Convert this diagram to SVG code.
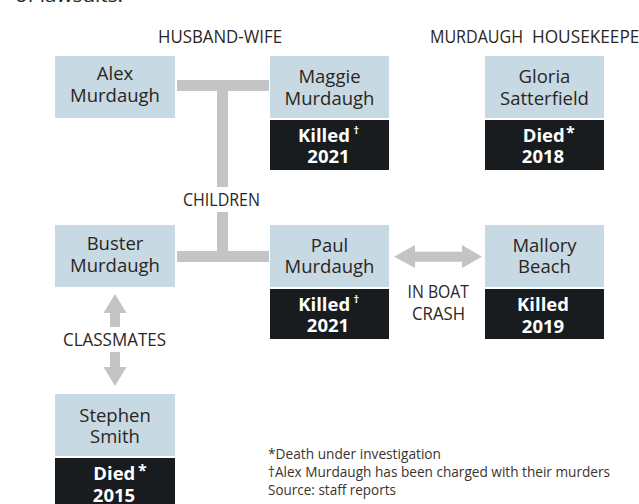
<svg xmlns="http://www.w3.org/2000/svg" width="639" height="504" viewBox="0 0 639 504">
<style>
.bg{fill:#ffffff}
.name{fill:#c7d9e3}
.fate{fill:#181c1f}
.conn{fill:#c4c4c4}
.nt{font-family:"Open Sans","Noto Sans",sans-serif;font-size:18.5px;fill:#2b2521;text-anchor:middle}
.ft{font-family:"Open Sans","Noto Sans",sans-serif;font-size:18.5px;font-weight:bold;fill:#ffffff}
.yr{text-anchor:middle}
.mk{font-size:11px}
.ast{font-size:16px}
.lbl{font-family:"Open Sans","Noto Sans",sans-serif;font-size:18px;fill:#2b2521}
.foot{font-family:"Open Sans","Noto Sans",sans-serif;font-size:15px;fill:#3a332e}
</style>
<rect class="bg" x="0" y="0" width="639" height="504"/>
<text class="lbl" x="15" y="1.5" font-size="20" textLength="108" lengthAdjust="spacingAndGlyphs">of lawsuits.</text>

<g id="connectors">
  <rect class="conn" x="177" y="80" width="92" height="11"/>
  <rect class="conn" x="217" y="91" width="11" height="96"/>
  <rect class="conn" x="217" y="212" width="11" height="40"/>
  <rect class="conn" x="177" y="251" width="92" height="11"/>
  <polygon class="conn" points="394,256.7 415,245 415,251.7 462,251.7 462,245 482,256.7 462,268 462,261.7 415,261.7 415,268"/>
  <polygon class="conn" points="115,294 126.5,313 120,313 120,327 110,327 110,313 103.5,313"/>
  <polygon class="conn" points="110,352 120,352 120,367 126.5,367 115,386 103.5,367 110,367"/>
</g>

<g id="labels">
  <text class="lbl" x="158" y="43" textLength="124" lengthAdjust="spacingAndGlyphs">HUSBAND-WIFE</text>
  <text class="lbl" y="43"><tspan x="430" textLength="93" lengthAdjust="spacingAndGlyphs">MURDAUGH</tspan><tspan x="532" textLength="118" lengthAdjust="spacingAndGlyphs">HOUSEKEEPER</tspan></text>
  <text class="lbl" x="183" y="206" textLength="77" lengthAdjust="spacingAndGlyphs">CHILDREN</text>
  <text class="lbl" x="63" y="345.5" textLength="103" lengthAdjust="spacingAndGlyphs">CLASSMATES</text>
  <text class="lbl" x="407.5" y="298.3" textLength="61.5" lengthAdjust="spacingAndGlyphs">IN BOAT</text>
  <text class="lbl" x="412" y="320" textLength="53" lengthAdjust="spacingAndGlyphs">CRASH</text>
</g>

<g id="alex">
  <rect class="name" x="55" y="56" width="120" height="62"/>
  <text class="nt" x="115" y="80">Alex</text>
  <text class="nt" x="115" y="101.7">Murdaugh</text>
</g>

<g id="maggie">
  <rect class="name" x="270" y="56" width="119" height="62"/>
  <text class="nt" x="329.5" y="82.7">Maggie</text>
  <text class="nt" x="329.5" y="105">Murdaugh</text>
  <rect class="fate" x="270" y="120" width="119" height="50"/>
  <text class="ft" x="298" y="141.5">Killed</text>
  <text class="ft mk" x="353.5" y="134">†</text>
  <text class="ft yr" x="328.5" y="163">2021</text>
</g>

<g id="gloria">
  <rect class="name" x="485" y="56" width="119" height="62"/>
  <text class="nt" x="544.5" y="82.7">Gloria</text>
  <text class="nt" x="544.5" y="105">Satterfield</text>
  <rect class="fate" x="485" y="120" width="119" height="50"/>
  <text class="ft" x="522.7" y="141.7">Died</text>
  <text class="ft ast" x="566" y="138">*</text>
  <text class="ft yr" x="543" y="163.3">2018</text>
</g>

<g id="buster">
  <rect class="name" x="55" y="225" width="120" height="62"/>
  <text class="nt" x="115" y="250">Buster</text>
  <text class="nt" x="115" y="271.7">Murdaugh</text>
</g>

<g id="paul">
  <rect class="name" x="270" y="225" width="119" height="62"/>
  <text class="nt" x="329.5" y="251.7">Paul</text>
  <text class="nt" x="329.5" y="273.3">Murdaugh</text>
  <rect class="fate" x="270" y="289" width="119" height="50"/>
  <text class="ft" x="298.3" y="310.7">Killed</text>
  <text class="ft mk" x="353.5" y="303">†</text>
  <text class="ft yr" x="328" y="331.7">2021</text>
</g>

<g id="mallory">
  <rect class="name" x="485" y="225" width="119" height="62"/>
  <text class="nt" x="544.5" y="252.3">Mallory</text>
  <text class="nt" x="544.5" y="273.3">Beach</text>
  <rect class="fate" x="485" y="289" width="119" height="50"/>
  <text class="ft yr" x="543" y="311">Killed</text>
  <text class="ft yr" x="543" y="332.5">2019</text>
</g>

<g id="stephen">
  <rect class="name" x="55" y="394" width="120" height="62"/>
  <text class="nt" x="115" y="421.7">Stephen</text>
  <text class="nt" x="115" y="443.3">Smith</text>
  <rect class="fate" x="55" y="458" width="120" height="50"/>
  <text class="ft" x="93.3" y="480">Died</text>
  <text class="ft ast" x="138" y="476">*</text>
  <text class="ft yr" x="114" y="501.7">2015</text>
</g>

<g id="footnotes">
  <text class="foot" x="268" y="459" textLength="173" lengthAdjust="spacingAndGlyphs">*Death under investigation</text>
  <text class="foot" x="268" y="477" textLength="342" lengthAdjust="spacingAndGlyphs">†Alex Murdaugh has been charged with their murders</text>
  <text class="foot" x="268" y="495" textLength="128" lengthAdjust="spacingAndGlyphs">Source: staff reports</text>
</g>
</svg>
